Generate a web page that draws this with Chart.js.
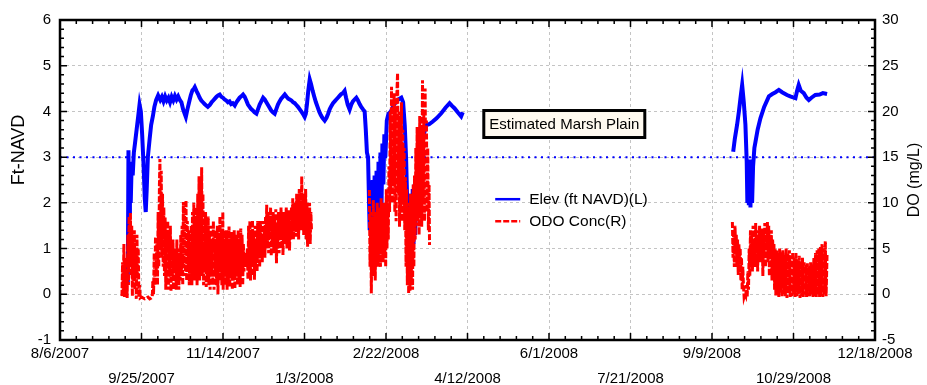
<!DOCTYPE html>
<html>
<head>
<meta charset="utf-8">
<script src="https://cdn.jsdelivr.net/npm/chart.js@4.4.1/dist/chart.umd.min.js"></script>
<style>
  html, body { margin: 0; padding: 0; background: #fff; }
</style>
</head>
<body>
<canvas id="chart" width="927" height="385"></canvas>
<script>
// x values are days since 8/6/2007
const tickLabels = ['8/6/2007', '9/25/2007', '11/14/2007', '1/3/2008', '2/22/2008', '4/12/2008',
  '6/1/2008', '7/21/2008', '9/9/2008', '10/29/2008', '12/18/2008'];
const marshPlain = 3;
const leftTitle = 'Ft-NAVD';
const rightTitle = 'DO (mg/L)';

// Elev (ft NAVD), [day, ft]
const elevPeriod1 = [
  [41.6,0.25],[42.0,3.15],[42.4,1.8],[42.9,2.7],[43.4,2.0],[44.0,2.9],[44.6,2.6],[45.3,3.1],[46.0,3.3],
  [47.0,3.6],[48.0,3.9],[48.8,4.15],[49.6,4.0],[50.4,3.5],[51.3,2.8],[52.0,2.1],[52.6,1.8],[53.2,2.3],
  [53.9,3.0],[55.0,3.4],[55.9,3.7],[57.0,3.9],[57.9,4.1],[59.0,4.25],[60.2,4.35],[61.5,4.25],[62.5,4.32],
  [63.5,4.22],[64.5,4.33],[65.5,4.24],[66.5,4.3],[67.5,4.2],[68.5,4.32],[69.5,4.24],[70.5,4.34],[71.5,4.26],
  [72.5,4.33],[73.5,4.25],[74.5,4.2],[75.5,4.05],[76.5,3.95],[77.2,3.88],[78.2,4.05],[79.2,4.2],[80.2,4.35],
  [81.2,4.46],[82.2,4.5],[82.7,4.53],[83.7,4.45],[84.7,4.38],[85.7,4.3],[86.7,4.24],[87.7,4.2],[88.7,4.16],
  [89.7,4.13],[90.7,4.1],[91.9,4.14],[93,4.2],[94,4.24],[95,4.28],[96,4.32],[97,4.35],[98,4.37],[99,4.32],
  [100,4.3],[101,4.26],[102,4.24],[103,4.2],[104,4.22],[105,4.16],[106,4.18],[107.2,4.13],[108.2,4.2],
  [109.2,4.25],[110.2,4.3],[111.2,4.33],[112.3,4.37],[113.3,4.32],[114.3,4.24],[115.3,4.15],[116.3,4.1],
  [117.3,4.05],[118.3,4.02],[119.3,3.98],[120.5,3.95],[121.5,4.05],[122.5,4.15],[123.5,4.22],[124.6,4.3],
  [125.6,4.26],[126.6,4.2],[127.6,4.14],[128.6,4.08],[129.6,4.02],[130.6,3.98],[131.7,3.95],[132.7,4.05],
  [133.7,4.15],[134.7,4.22],[135.7,4.28],[136.7,4.32],[137.9,4.37],[139,4.32],[140,4.28],[141,4.26],
  [142,4.24],[143,4.2],[144,4.18],[145,4.14],[146,4.1],[147,4.05],[148,4.0],[149,3.95],[150.1,3.88],
  [150.8,3.95],[151.5,4.15],[152.3,4.45],[153.2,4.7],[154,4.6],[155,4.45],[156,4.32],[157,4.2],[158,4.1],
  [159,4.0],[160,3.92],[161,3.86],[162.4,3.8],[163.5,3.86],[164.5,3.95],[165.5,4.05],[166.5,4.12],
  [167.5,4.18],[168.5,4.22],[169.5,4.26],[170.5,4.3],[171.5,4.34],[172.5,4.38],[173.5,4.4],[174.6,4.45],
  [175.5,4.3],[176.5,4.15],[177.7,4.04],[178.7,4.15],[179.7,4.22],[180.7,4.26],[181.8,4.3],[182.8,4.24],
  [183.8,4.16],[184.8,4.1],[185.8,4.05],[186.9,4.0],[187.6,3.6],[188.3,3.1],[189.0,3.0],[189.6,2.0],
  [190.0,1.4],[190.6,2.4],[191.2,1.3],[191.8,2.5],[192.4,1.2],[193.0,2.6],[193.6,1.0],[194.2,2.7],
  [194.8,0.75],[195.4,2.9],[196.0,1.2],[196.6,3.1],[197.2,1.8],[197.8,3.3],[198.4,2.4],[199.0,3.5],
  [199.6,3.0],[200.5,3.8],[201.5,3.95],[203,4.0],[205,4.15],[207,4.25],[209.4,4.3],[210.5,4.2],[211.5,3.7],
  [212.3,3.0],[212.9,2.2],[213.4,2.0],[213.9,0.6],[214.4,2.1],[214.9,0.55],[215.4,2.2],[215.9,0.8],
  [216.4,2.3],[216.9,1.1],[217.4,2.4],[217.9,1.3],[218.6,2.4],[219.5,2.0],[220.3,2.8],[221.6,3.1],
  [222.5,3.4],[224.7,3.7],[226.5,3.72],[228.7,3.78],[231,3.85],[233.9,3.96],[236.5,4.08],[239,4.18],
  [240.5,4.12],[242,4.07],[244,3.98],[246.1,3.89],[247.1,3.98]
];
const elevPeriod2 = [
  [413,3.12],[414,3.4],[415.4,3.71],[416.5,4.0],[417.5,4.3],[418.5,4.58],[419.5,4.2],[420.5,3.71],
  [421.3,2.9],[421.7,2.0],[422.1,2.9],[422.6,1.95],[423.1,2.95],[423.6,1.9],[424.1,2.9],[424.6,2.0],
  [425.2,2.8],[426,3.2],[426.7,3.34],[428,3.6],[429.7,3.85],[432,4.1],[434.9,4.33],[437,4.38],[439,4.42],
  [441,4.47],[443,4.42],[446,4.36],[448,4.33],[451.2,4.29],[452.2,4.45],[453.2,4.58],[454.5,4.45],
  [456.3,4.4],[458,4.3],[459.4,4.25],[461,4.3],[463.4,4.36],[466,4.37],[468,4.4],[470.6,4.38]
];

// ODO Conc (mg/L), [day, mg/L]
const odoPeriod1 = [
  [38.0,-0.2],[38.4,3.5],[38.8,0.2],[39.2,5.5],[39.6,-0.3],[40.0,4.0],[40.4,0.5],[40.8,2.5],[41.2,-0.4],
  [41.6,6.5],[42.0,1.0],[42.4,8.5],[42.8,3.0],[43.2,8.9],[43.6,2.0],[44.0,7.5],[44.4,-0.2],[44.8,6.0],
  [45.2,1.5],[45.6,7.0],[46.0,0.5],[46.4,5.0],[46.8,-0.5],[47.2,6.5],[47.6,2.0],[48.0,5.0],[48.4,-0.3],
  [48.8,1.0],[49.2,-0.4],[50,-0.3],[51,-0.4],[52,-0.5],[53,-0.4],[54,-0.3],[55,-0.5],[56,-0.4],[56.6,-0.3],
  [57.0,1.5],[57.4,0.0],[57.8,4.5],[58.2,1.0],[58.6,6.3],[59.0,2.0],[59.4,5.5],[59.8,1.0],[60.2,9.0],
  [60.6,3.0],[61.0,12.0],[61.3,14.8],[61.7,5.0],[62.1,13.5],[62.5,4.0],[62.9,11.0],[63.3,3.0],[63.7,9.5],
  [64.1,2.0],[64.5,8.4],[64.9,0.5],[65.3,7.0],[65.7,1.5],[66.1,8.0],[66.5,0.5],[66.9,6.5],[67.3,2.0],
  [67.7,7.5],[68.1,0.3],[68.5,5.5],[68.9,1.5],[69.3,6.0],[69.7,0.5],[70.1,5.0],[70.5,2.5],[70.9,4.5],
  [71.3,0.5],[71.7,6.0],[72.1,1.0],[72.5,5.0],[72.9,0.5],[73.3,4.0],[73.7,1.5],[74.1,6.5],[74.5,2.0],
  [74.9,7.5],[75.3,1.0],[75.7,10.1],[76.1,3.0],[76.5,9.5],[76.9,2.0],[77.3,10.3],[77.7,1.5],[78.1,8.0],
  [78.5,3.0],[78.9,7.0],[79.3,1.0],[79.7,5.5],[80.1,2.5],[80.5,7.5],[80.9,1.0],[81.3,9.0],[81.7,2.0],
  [82.1,10.0],[82.5,1.5],[82.9,8.5],[83.3,3.0],[83.7,9.5],[84.1,1.0],[84.5,11.0],[84.9,2.5],[85.3,12.9],
  [85.7,1.5],[86.1,10.5],[86.5,3.0],[86.9,13.9],[87.3,2.0],[87.7,11.0],[88.1,1.0],[88.5,8.0],[88.9,2.5],
  [89.3,9.0],[89.7,0.8],[90.1,7.0],[90.5,2.0],[90.9,8.5],[91.3,1.0],[91.7,6.5],[92.1,0.5],[92.5,7.5],
  [92.9,2.5],[93.3,6.0],[93.7,1.0],[94.1,8.0],[94.5,0.5],[94.9,7.0],[95.3,2.0],[95.7,5.5],[96.1,1.0],
  [96.5,7.5],[96.9,0.0],[97.3,6.5],[97.7,1.5],[98.1,8.5],[98.5,2.5],[98.9,7.0],[99.3,1.0],[99.9,9.0],
  [100.1,0.5],[100.5,7.0],[100.9,2.0],[101.3,5.5],[101.7,1.0],[102.1,7.0],[102.5,0.5],[102.9,6.0],
  [103.3,1.5],[103.7,7.4],[104.1,0.8],[104.5,5.5],[104.9,2.0],[105.3,6.8],[105.7,0.5],[106.1,6.0],
  [106.5,1.5],[106.9,7.0],[107.3,0.6],[107.7,5.5],[108.1,2.0],[108.5,6.5],[108.9,1.0],[109.3,7.0],
  [109.7,1.5],[110.1,6.0],[110.5,0.8],[110.9,7.2],[111.3,2.0],[111.7,6.5],[112.1,1.0],[112.5,5.5],
  [112.9,2.5],[113.3,4.5],[113.7,3.0],[114.1,4.0],[114.5,3.0],[114.9,5.0],[115.3,1.6],[115.7,7.5],
  [116.1,2.0],[116.5,8.0],[116.9,1.5],[117.3,7.0],[117.7,3.0],[118.1,8.1],[118.5,2.0],[118.9,6.5],
  [119.3,1.6],[119.7,7.5],[120.1,3.0],[120.5,6.0],[120.9,2.5],[121.3,8.0],[121.7,4.0],[122.1,7.0],
  [122.5,3.0],[122.9,8.0],[123.3,4.5],[123.7,6.5],[124.1,3.5],[124.5,8.0],[124.9,5.0],[125.3,7.5],
  [125.7,4.0],[126.1,8.5],[126.5,5.5],[126.8,9.8],[127.2,5.0],[127.6,9.0],[128.0,4.5],[128.4,8.5],
  [128.8,6.0],[129.2,9.5],[129.6,4.2],[130.0,8.0],[130.4,5.5],[130.8,9.0],[131.2,4.5],[131.6,8.5],
  [132.0,6.0],[132.4,9.3],[132.8,3.4],[133.2,7.5],[133.6,5.0],[134.0,9.0],[134.4,4.5],[134.8,8.0],
  [135.2,6.0],[135.6,9.5],[136.0,5.0],[136.4,8.5],[136.8,4.3],[137.2,9.0],[137.6,5.5],[138.0,8.0],
  [138.4,6.5],[138.8,9.5],[139.2,5.0],[139.6,8.5],[140.0,6.0],[140.4,9.2],[140.8,4.8],[141.2,8.0],
  [141.6,6.0],[142.0,9.5],[142.4,6.5],[142.8,10.5],[143.2,6.0],[143.6,9.5],[144.0,7.0],[144.4,10.0],
  [144.8,6.3],[145.2,11.0],[145.6,7.5],[146.0,10.5],[146.4,6.0],[146.8,11.5],[147.2,8.0],[147.6,10.0],
  [148.0,7.0],[148.3,12.9],[148.7,8.0],[149.1,11.0],[149.5,6.5],[149.9,10.5],[150.3,7.5],[150.7,11.5],
  [151.1,6.0],[151.5,10.0],[151.9,5.2],[152.3,9.5],[152.7,6.5],[153.1,10.0],[153.5,5.5],[153.9,9.0],
  [154.3,7.0]
];
const odoPeriod2 = [
  [189.8,11.4],[190.2,3.0],[190.6,9.0],[191.0,0.1],[191.4,8.0],[191.8,2.0],[192.2,10.3],[192.6,3.5],
  [193.0,9.0],[193.4,1.5],[193.8,8.5],[194.2,4.0],[194.6,10.0],[195.0,3.0],[195.4,9.5],[195.8,4.5],
  [196.2,8.0],[196.6,3.0],[197.0,10.5],[197.4,5.0],[197.8,9.0],[198.2,3.5],[198.6,10.0],[199.0,4.0],
  [199.4,8.5],[199.8,3.0],[200.2,11.5],[200.6,5.0],[201.0,9.5],[201.4,6.0],[201.8,14.0],[202.2,9.0],
  [202.6,20.0],[203.0,11.0],[203.4,22.7],[203.8,10.0],[204.2,21.0],[204.6,12.0],[205.0,22.0],[205.4,9.0],
  [205.8,20.5],[206.2,8.0],[206.6,21.5],[207.1,24.2],[207.5,11.0],[207.9,20.0],[208.3,7.4],[208.7,19.5],
  [209.1,9.5],[209.5,21.0],[209.9,8.0],[210.3,18.0],[210.7,10.0],[211.1,16.0],[211.5,7.0],[211.9,12.8],
  [212.3,3.0],[212.7,11.5],[213.1,1.0],[213.5,10.0],[213.9,0.1],[214.3,9.0],[214.7,0.3],[215.1,11.0],
  [215.5,1.0],[215.9,10.3],[216.3,0.5],[216.7,12.0],[217.1,3.0],[217.5,13.0],[217.9,6.0],[218.3,16.0],
  [218.7,7.5],[219.1,18.3],[219.5,8.0],[219.9,17.0],[220.3,6.5],[220.7,19.5],[221.1,9.0],[221.5,18.0],
  [221.9,7.4],[222.4,23.4],[222.8,10.0],[223.2,20.0],[223.6,8.0],[224.0,22.5],[224.4,12.0],[224.8,19.0],
  [225.2,9.0],[225.6,16.0],[226.0,7.0],[226.4,12.0],[226.7,5.4]
];
const odoPeriod3 = [
  [412.5,7.9],[412.9,4.0],[413.3,7.0],[413.7,3.0],[414.1,7.5],[414.5,5.0],[414.9,6.5],[415.3,3.0],
  [415.7,6.0],[416.1,2.1],[416.5,5.5],[416.9,3.5],[417.3,5.0],[417.7,1.5],[418.1,4.0],[418.5,0.5],
  [418.9,3.0],[419.3,1.0],[419.7,-0.3],[420.2,0.0],[420.7,-0.2],[421.2,1.0],[421.6,-0.3],[422.0,2.5],
  [422.4,0.5],[422.8,5.0],[423.2,2.0],[423.6,7.0],[424.0,3.5],[424.4,6.5],[424.8,2.5],[425.2,7.5],
  [425.6,4.0],[426.0,6.0],[426.4,3.0],[426.8,7.8],[427.2,4.5],[427.6,6.5],[428.0,2.5],[428.4,7.0],
  [428.8,5.0],[429.2,7.5],[429.6,3.5],[430.0,6.5],[430.4,4.0],[430.8,7.2],[431.2,2.0],[431.6,7.0],
  [432.0,4.5],[432.4,7.8],[432.8,3.0],[433.2,7.0],[433.6,5.0],[434.0,7.9],[434.4,3.5],[434.8,7.5],
  [435.2,2.0],[435.6,6.5],[436.0,4.0],[436.4,7.0],[436.8,1.5],[437.2,6.0],[437.6,3.0],[438.0,5.5],
  [438.4,0.5],[438.8,5.0],[439.2,-0.2],[439.6,4.8],[440.0,0.0],[440.5,4.5],[441.0,-0.3],[441.5,5.0],
  [442.0,0.2],[442.5,4.6],[443.0,-0.3],[443.5,4.8],[444.0,0.0],[444.5,4.3],[445.0,-0.2],[445.5,5.0],
  [446.0,-0.4],[446.5,4.5],[447.0,0.1],[447.5,4.8],[448.0,-0.3],[448.5,4.2],[449.0,-0.2],[449.5,4.6],
  [450.0,0.0],[450.5,4.0],[451.0,-0.3],[451.5,4.5],[452.0,-0.2],[452.5,3.8],[453.0,0.0],[453.5,4.2],
  [454.0,-0.4],[454.5,3.6],[455.0,-0.2],[455.5,4.0],[456.0,-0.3],[456.5,3.5],[457.0,0.0],[457.5,3.2],
  [458.0,-0.3],[458.5,3.4],[459.0,-0.2],[459.5,3.0],[460.0,-0.3],[460.5,3.5],[461.0,0.0],[461.5,3.3],
  [462.0,-0.3],[462.5,4.0],[463.0,-0.2],[463.5,4.5],[464.0,-0.3],[464.5,4.8],[465.0,0.0],[465.5,5.0],
  [466.0,-0.3],[466.5,5.2],[467.0,-0.2],[467.5,5.5],[468.0,-0.3],[468.5,5.0],[469.0,0.0],[469.5,5.8],
  [470.0,-0.2],[470.6,4.5]
];

const FONT = 'Arial, "Liberation Sans", sans-serif';

// join periods with a gap between them
function toPoints(...periods) {
  const out = [];
  periods.forEach((p, i) => {
    if (i > 0) out.push({ x: (periods[i - 1][periods[i - 1].length - 1][0] + p[0][0]) / 2, y: null });
    p.forEach(([x, y]) => out.push({ x, y }));
  });
  return out;
}

const decor = {
  id: 'decor',
  afterDraw(chart) {
    const { ctx, chartArea: a, scales } = chart;
    ctx.save();
    // minor ticks
    ctx.strokeStyle = '#000';
    ctx.lineWidth = 1.5;
    ctx.beginPath();
    for (let d = 0; d <= 500; d += 10) {
      const x = scales.x.getPixelForValue(d);
      const len = d % 50 === 0 ? 7 : 4;
      ctx.moveTo(x, a.bottom); ctx.lineTo(x, a.bottom - len);
      ctx.moveTo(x, a.top); ctx.lineTo(x, a.top + len);
    }
    for (let v = -5; v <= 30; v += 1) {
      const y = scales.y1.getPixelForValue(v);
      const len = v % 5 === 0 ? 7 : 4;
      ctx.moveTo(a.left, y); ctx.lineTo(a.left + len, y);
      ctx.moveTo(a.right, y); ctx.lineTo(a.right - len, y);
    }
    ctx.stroke();
    // frame
    ctx.lineWidth = 2.5;
    ctx.strokeRect(a.left, a.top, a.right - a.left, a.bottom - a.top);

    // axis titles, both read bottom to top
    ctx.fillStyle = '#000';
    ctx.textAlign = 'center';
    ctx.textBaseline = 'middle';
    const midY = (a.top + a.bottom) / 2;
    ctx.save();
    ctx.translate(19, midY - 30);
    ctx.rotate(-Math.PI / 2);
    ctx.font = '18px ' + FONT;
    ctx.fillText(leftTitle, 0, 0);
    ctx.restore();
    ctx.save();
    ctx.translate(chart.width - 12, midY);
    ctx.rotate(-Math.PI / 2);
    ctx.font = '16px ' + FONT;
    ctx.fillText(rightTitle, 0, 0);
    ctx.restore();

    // note box
    const bx = scales.x.getPixelForValue(260), by = scales.y.getPixelForValue(4.02);
    const bw = 161, bh = 27;
    ctx.fillStyle = '#fffaf0';
    ctx.fillRect(bx, by, bw, bh);
    ctx.lineWidth = 3;
    ctx.strokeRect(bx, by, bw, bh);
    ctx.fillStyle = '#000';
    ctx.font = '15px ' + FONT;
    ctx.fillText('Estimated Marsh Plain', bx + bw / 2, by + bh / 2 + 1);

    // legend
    const lx = scales.x.getPixelForValue(267);
    const rows = [chart.data.datasets[0], chart.data.datasets[1]];
    rows.forEach((ds, i) => {
      const y = scales.y.getPixelForValue(2.08) + i * 22;
      ctx.strokeStyle = ds.borderColor;
      ctx.lineWidth = 2.5;
      ctx.setLineDash(ds.borderDash || []);
      ctx.beginPath();
      ctx.moveTo(lx, y); ctx.lineTo(lx + 25, y);
      ctx.stroke();
      ctx.setLineDash([]);
      ctx.fillStyle = '#000';
      ctx.textAlign = 'left';
      ctx.font = '15.5px ' + FONT;
      ctx.fillText(ds.label, lx + 34, y + 1);
    });
    ctx.restore();
  }
};

new Chart(document.getElementById('chart'), {
  type: 'line',
  data: {
    datasets: [
      {
        label: 'Elev (ft NAVD)(L)',
        data: toPoints(elevPeriod1, elevPeriod2),
        borderColor: '#0000ff',
        borderWidth: 4,
        pointRadius: 0,
        spanGaps: false,
        yAxisID: 'y',
        order: 2
      },
      {
        label: 'ODO Conc(R)',
        data: toPoints(odoPeriod1, odoPeriod2, odoPeriod3),
        borderColor: '#ff0000',
        borderWidth: 3,
        borderDash: [6, 2],
        pointRadius: 0,
        spanGaps: false,
        yAxisID: 'y1',
        order: 1
      },
      {
        label: 'Marsh plain',
        data: [{ x: 0, y: marshPlain }, { x: 500, y: marshPlain }],
        borderColor: '#0000ff',
        borderWidth: 2,
        borderDash: [2, 4.5],
        pointRadius: 0,
        yAxisID: 'y',
        order: 3
      }
    ]
  },
  options: {
    responsive: false,
    animation: false,
    layout: { padding: { top: 20, left: 0, right: 0, bottom: 0 } },
    plugins: { legend: { display: false }, tooltip: { enabled: false } },
    elements: { line: { tension: 0 } },
    scales: {
      x: {
        type: 'linear',
        min: 0,
        max: 500,
        afterFit: s => { s.height = 45; },
        grid: { color: '#c4c4c4', lineWidth: 1, drawTicks: false },
        border: { display: false, dash: [3, 3] },
        ticks: {
          stepSize: 50,
          autoSkip: false,
          maxRotation: 0,
          padding: 1,
          color: '#000',
          font: { family: FONT, size: 15, lineHeight: 1.7 },
          callback: (v, i) => i % 2 === 0 ? [tickLabels[i], ''] : ['', tickLabels[i]]
        }
      },
      y: {
        position: 'left',
        min: -1,
        max: 6,
        afterFit: s => { s.width = 60; },
        grid: { color: '#c4c4c4', lineWidth: 1, drawTicks: false },
        border: { display: false, dash: [3, 3] },
        ticks: { stepSize: 1, padding: 9, color: '#000', font: { family: FONT, size: 15 } }
      },
      y1: {
        position: 'right',
        min: -5,
        max: 30,
        afterFit: s => { s.width = 52; },
        grid: { drawOnChartArea: false, drawTicks: false },
        border: { display: false },
        ticks: { stepSize: 5, padding: 7, color: '#000', font: { family: FONT, size: 15 } }
      }
    }
  },
  plugins: [decor]
});
</script>
</body>
</html>
